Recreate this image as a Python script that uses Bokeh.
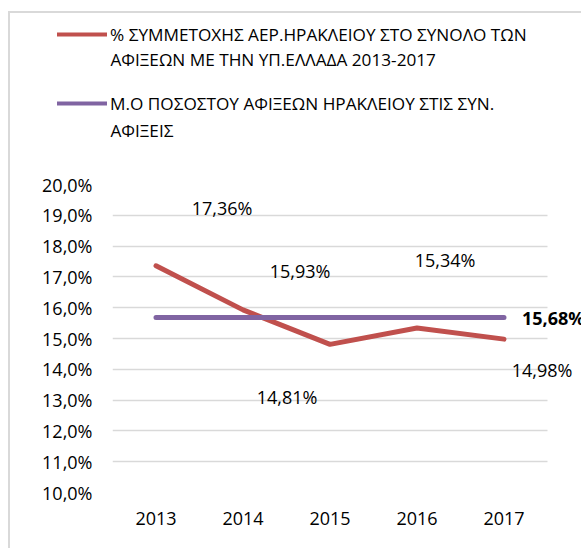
from bokeh.plotting import figure
from bokeh.layouts import column
from bokeh.models import (ColumnDataSource, LabelSet, Legend, LegendItem, Range1d, Label,
                          FixedTicker, CustomJSTickFormatter, BoxAnnotation)
from bokeh.core.properties import value
from bokeh.embed import file_html
from bokeh.resources import INLINE

# ---- data ----
years = [2013, 2014, 2015, 2016, 2017]
share = [17.36, 15.93, 14.81, 15.34, 14.98]
avg_share = [15.68, 15.68, 15.68, 15.68, 15.68]
y_ticks = [10, 11, 12, 13, 14, 15, 16, 17, 18, 19, 20]
share_labels = ["17,36%", "15,93%", "14,81%", "15,34%", "14,98%"]
avg_label = "15,68%"
legend_red = ["% ΣΥΜΜΕΤΟΧΗΣ ΑΕΡ.ΗΡΑΚΛΕΙΟΥ ΣΤΟ ΣΥΝΟΛΟ ΤΩΝ",
              "ΑΦΙΞΕΩΝ ΜΕ ΤΗΝ ΥΠ.ΕΛΛΑΔΑ 2013-2017"]
legend_purple = ["Μ.Ο ΠΟΣΟΣΤΟΥ ΑΦΙΞΕΩΝ ΗΡΑΚΛΕΙΟΥ ΣΤΙΣ ΣΥΝ.",
                 "ΑΦΙΞΕΙΣ"]

# label offsets (screen px) – style only
lab_dx = [66, 57, -43, 28, 38]
lab_dy = [58, 39, -53, 68, -31]

FONT = "Open Sans"
FS = "18px"
LFS = "17.2px"
RED = "#C0504D"
PURPLE = "#8064A2"
GRID = "#D9D9D9"
TXT = "#000000"

src = ColumnDataSource(dict(year=years, share=share, avg=avg_share, lab=share_labels,
                            dx=lab_dx, dy=lab_dy))

# ---------------- main chart ----------------
p = figure(output_backend="svg", toolbar_location=None,
           x_range=Range1d(2012.5, 2012.5 + 469 / 87), y_range=Range1d(10, 20),
           width=571, height=405,
           min_border_left=102, min_border_right=0, min_border_top=41, min_border_bottom=56)
p.frame_align = False
p.outline_line_color = None
p.background_fill_color = "white"
p.border_fill_color = "white"

p.xgrid.grid_line_color = None
p.ygrid.grid_line_color = GRID
p.ygrid.grid_line_width = 1.5
p.ygrid.ticker = FixedTicker(ticks=y_ticks)

# hide grid beyond the last category slot
p.add_layout(BoxAnnotation(left=years[-1] + 0.5, fill_color="white", fill_alpha=1,
                           line_color=None, level="underlay"))

r_red = p.line("year", "share", source=src, line_color=RED, line_width=5,
               line_cap="round", line_join="round")
r_pur = p.line("year", "avg", source=src, line_color=PURPLE, line_width=5, line_cap="round")

labels = LabelSet(x="year", y="share", text="lab", source=src, x_offset="dx", y_offset="dy",
                  text_align="center", text_baseline="middle", text_font=value(FONT),
                  text_font_size=FS, text_color=TXT)
p.add_layout(labels)

avg_src = ColumnDataSource(dict(year=[years[-1]], avg=[avg_share[-1]], lab=[avg_label]))
avg_lab = LabelSet(x="year", y="avg", text="lab", source=avg_src, x_offset=18, y_offset=0,
                   text_align="left", text_baseline="middle", text_font=value(FONT),
                   text_font_size=FS, text_font_style="bold", text_color=TXT)
p.add_layout(avg_lab)

p.yaxis.ticker = FixedTicker(ticks=y_ticks)
p.yaxis.formatter = CustomJSTickFormatter(code="return tick.toFixed(1).replace('.', ',') + '%';")
p.xaxis.ticker = FixedTicker(ticks=years)
p.xaxis.formatter = CustomJSTickFormatter(code="return tick.toFixed(0);")
for ax in (p.xaxis[0], p.yaxis[0]):
    ax.axis_line_color = None
    ax.major_tick_line_color = None
    ax.minor_tick_line_color = None
    ax.major_tick_out = 0
    ax.major_tick_in = 0
    ax.major_label_text_font = FONT
    ax.major_label_text_font_size = FS
    ax.major_label_text_color = TXT
p.yaxis.major_label_standoff = 20
p.xaxis.major_label_standoff = 19

# ---------------- legend strip ----------------
lg = figure(output_backend="svg", toolbar_location=None, width=571, height=130,
            x_range=Range1d(2012.5, 2017.5), y_range=Range1d(0, 1),
            x_axis_type=None, y_axis_type=None,
            min_border_left=47, min_border_top=7, min_border_right=0, min_border_bottom=0)
lg.frame_align = False
lg.outline_line_color = None
lg.xgrid.grid_line_color = None
lg.ygrid.grid_line_color = None
lg.border_fill_color = "white"
l_red = lg.line("year", "share", source=src, line_color=RED, line_width=4, line_cap="round")
l_pur = lg.line("year", "avg", source=src, line_color=PURPLE, line_width=4, line_cap="round")
legend = Legend(items=[LegendItem(label=legend_red[0], renderers=[l_red]),
                       LegendItem(label=legend_purple[0], renderers=[l_pur])],
                location="top_left", orientation="vertical",
                label_text_font=FONT, label_text_font_size=LFS, label_text_color=TXT,
                glyph_width=50, glyph_height=28, label_height=28, label_standoff=3, spacing=41,
                padding=0, margin=0, border_line_color=None, background_fill_alpha=0)
lg.add_layout(legend)
for txt, yy in ((legend_red[1], 84), (legend_purple[1], 13)):
    lg.add_layout(Label(x=53, y=yy, x_units="screen", y_units="screen", text=txt,
                        text_align="left", text_baseline="middle", text_font=FONT,
                        text_font_size=LFS, text_color=TXT))

layout = column(lg, p, spacing=0)
layout.styles = {"margin-left": "8px", "margin-top": "11px",
                 "border-left": "2px solid #d9d9d9", "border-top": "2px solid #d9d9d9"}

open("out.html", "w").write(file_html(layout, INLINE))
